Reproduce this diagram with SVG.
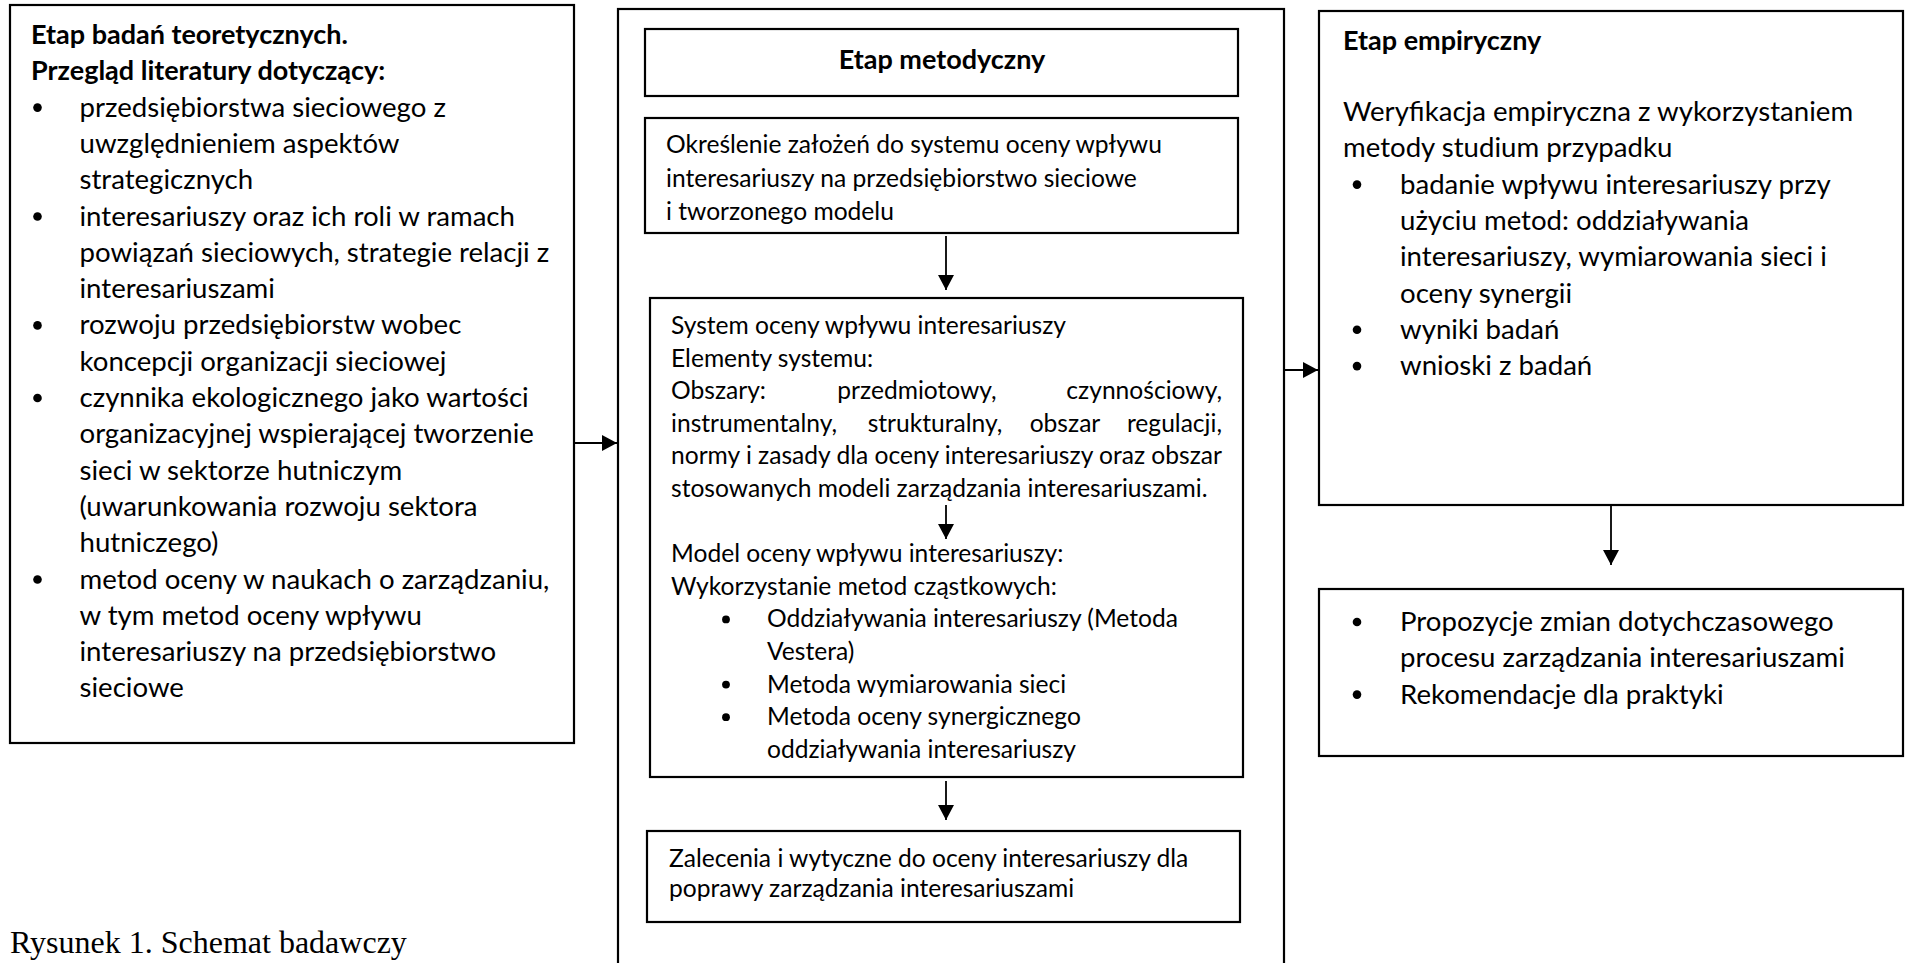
<svg xmlns="http://www.w3.org/2000/svg" width="1907" height="963" viewBox="0 0 1907 963">
<defs>
<style>
.box{fill:#fff;stroke:#000;stroke-width:2.2}
.t{font-family:Lato,"Open Sans",sans-serif;font-size:27.6px;fill:#000}
.tb{font-family:Lato,"Open Sans",sans-serif;font-size:27px;font-weight:bold;fill:#000}
.m{font-family:Lato,"Open Sans",sans-serif;font-size:24.6px;fill:#000}
.cap{font-family:"Liberation Serif",serif;font-size:32px;fill:#000}
.conn{stroke:#000;stroke-width:1.8;fill:none;marker-end:url(#ah)}
</style>
<marker id="ah" markerUnits="userSpaceOnUse" markerWidth="16" markerHeight="16" refX="15" refY="8" orient="auto">
<path d="M0,0 L15,8 L0,16 Z" fill="#000"/>
</marker>
</defs>
<rect width="1907" height="963" fill="#fff"/>

<g id="theory">
<rect class="box" x="10" y="5" width="564" height="738"/>
<text class="tb" x="31" y="44">Etap badań teoretycznych.</text>
<text class="tb" x="31" y="80.3">Przegląd literatury dotyczący:</text>
<circle cx="37.5" cy="107.6" r="4.3"/>
<text class="t" x="79.5" y="116.6">przedsiębiorstwa sieciowego z</text>
<text class="t" x="79.5" y="152.9">uwzględnieniem aspektów</text>
<text class="t" x="79.5" y="189.2">strategicznych</text>
<circle cx="37.5" cy="216.5" r="4.3"/>
<text class="t" x="79.5" y="225.5">interesariuszy oraz ich roli w ramach</text>
<text class="t" x="79.5" y="261.8">powiązań sieciowych, strategie relacji z</text>
<text class="t" x="79.5" y="298.1">interesariuszami</text>
<circle cx="37.5" cy="325.4" r="4.3"/>
<text class="t" x="79.5" y="334.4">rozwoju przedsiębiorstw wobec</text>
<text class="t" x="79.5" y="370.7">koncepcji organizacji sieciowej</text>
<circle cx="37.5" cy="398" r="4.3"/>
<text class="t" x="79.5" y="407">czynnika ekologicznego jako wartości</text>
<text class="t" x="79.5" y="443.3">organizacyjnej wspierającej tworzenie</text>
<text class="t" x="79.5" y="479.6">sieci w sektorze hutniczym</text>
<text class="t" x="79.5" y="515.9">(uwarunkowania rozwoju sektora</text>
<text class="t" x="79.5" y="552.2">hutniczego)</text>
<circle cx="37.5" cy="579.5" r="4.3"/>
<text class="t" x="79.5" y="588.5">metod oceny w naukach o zarządzaniu,</text>
<text class="t" x="79.5" y="624.8">w tym metod oceny wpływu</text>
<text class="t" x="79.5" y="661.1">interesariuszy na przedsiębiorstwo</text>
<text class="t" x="79.5" y="697.4">sieciowe</text>
</g>

<g id="method-frame">
<rect class="box" x="618" y="9" width="666" height="980"/>
</g>

<g id="method-title">
<rect class="box" x="645" y="29" width="593" height="67"/>
<text class="tb" x="942" y="69" text-anchor="middle">Etap metodyczny</text>
</g>

<g id="assumptions">
<rect class="box" x="645" y="118" width="593" height="115"/>
<text class="m" x="666" y="153">Określenie założeń do systemu oceny wpływu</text>
<text class="m" x="666" y="186.5">interesariuszy na przedsiębiorstwo sieciowe</text>
<text class="m" x="666" y="220">i tworzonego modelu</text>
</g>

<g id="system">
<rect class="box" x="650" y="298" width="593" height="479"/>
<text class="m" x="671" y="334">System oceny wpływu interesariuszy</text>
<text class="m" x="671" y="366.6">Elementy systemu:</text>
<text class="m" x="671" y="399.2">Obszary:</text>
<text class="m" x="917" y="399.2" text-anchor="middle">przedmiotowy,</text>
<text class="m" x="1222" y="399.2" text-anchor="end">czynnościowy,</text>
<text class="m" x="671" y="431.8">instrumentalny,</text>
<text class="m" x="935" y="431.8" text-anchor="middle">strukturalny,</text>
<text class="m" x="1065" y="431.8" text-anchor="middle">obszar</text>
<text class="m" x="1222" y="431.8" text-anchor="end">regulacji,</text>
<text class="m" x="671" y="464.4" textLength="551" lengthAdjust="spacing">normy i zasady dla oceny interesariuszy oraz obszar</text>
<text class="m" x="671" y="497">stosowanych modeli zarządzania interesariuszami.</text>
<text class="m" x="671" y="562.2">Model oceny wpływu interesariuszy:</text>
<text class="m" x="671" y="594.8">Wykorzystanie metod cząstkowych:</text>
<circle cx="726" cy="619.4" r="3.9"/>
<text class="m" x="767" y="627.4">Oddziaływania interesariuszy (Metoda</text>
<text class="m" x="767" y="660">Vestera)</text>
<circle cx="726" cy="684.6" r="3.9"/>
<text class="m" x="767" y="692.6">Metoda wymiarowania sieci</text>
<circle cx="726" cy="717.2" r="3.9"/>
<text class="m" x="767" y="725.2">Metoda oceny synergicznego</text>
<text class="m" x="767" y="757.8">oddziaływania interesariuszy</text>
</g>

<g id="recommendations">
<rect class="box" x="647" y="831" width="593" height="91"/>
<text class="m" x="669" y="867">Zalecenia i wytyczne do oceny interesariuszy dla</text>
<text class="m" x="669" y="897">poprawy zarządzania interesariuszami</text>
</g>

<g id="empirical">
<rect class="box" x="1319" y="11" width="584" height="494"/>
<text class="tb" x="1343" y="50">Etap empiryczny</text>
<text class="t" x="1343" y="121">Weryfikacja empiryczna z wykorzystaniem</text>
<text class="t" x="1343" y="157.3">metody studium przypadku</text>
<circle cx="1357" cy="184.6" r="4.3"/>
<text class="t" x="1400" y="193.6">badanie wpływu interesariuszy przy</text>
<text class="t" x="1400" y="229.9">użyciu metod: oddziaływania</text>
<text class="t" x="1400" y="266.2">interesariuszy, wymiarowania sieci i</text>
<text class="t" x="1400" y="302.5">oceny synergii</text>
<circle cx="1357" cy="329.8" r="4.3"/>
<text class="t" x="1400" y="338.8">wyniki badań</text>
<circle cx="1357" cy="366.1" r="4.3"/>
<text class="t" x="1400" y="375.1">wnioski z badań</text>
</g>

<g id="proposals">
<rect class="box" x="1319" y="589" width="584" height="167"/>
<circle cx="1357" cy="622" r="4.3"/>
<text class="t" x="1400" y="631">Propozycje zmian dotychczasowego</text>
<text class="t" x="1400" y="667.3">procesu zarządzania interesariuszami</text>
<circle cx="1357" cy="694.6" r="4.3"/>
<text class="t" x="1400" y="703.6">Rekomendacje dla praktyki</text>
</g>

<g id="connectors">
<line class="conn" x1="574" y1="443" x2="617" y2="443"/>
<line class="conn" x1="1284" y1="370" x2="1318" y2="370"/>
<line class="conn" x1="946" y1="236" x2="946" y2="290"/>
<line class="conn" x1="946" y1="505" x2="946" y2="539"/>
<line class="conn" x1="946" y1="781" x2="946" y2="820"/>
<line class="conn" x1="1611" y1="505" x2="1611" y2="565"/>
</g>

<text class="cap" x="10" y="953">Rysunek 1. Schemat badawczy</text>
</svg>
